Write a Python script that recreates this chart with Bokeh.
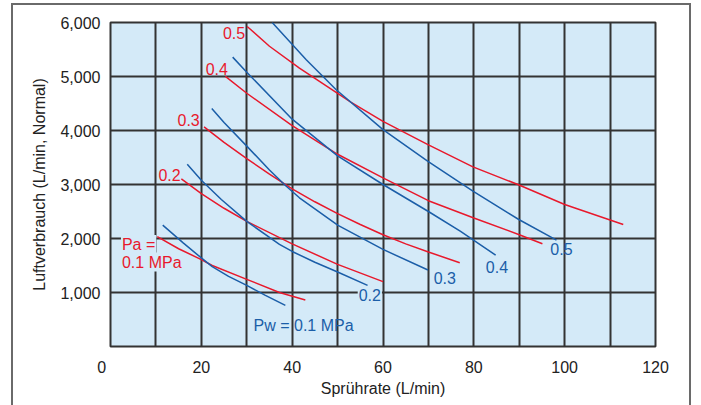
from bokeh.plotting import figure
from bokeh.models import Label, FixedTicker, NumeralTickFormatter, Range1d, InlineStyleSheet
from bokeh.embed import file_html
from bokeh.resources import INLINE

# Pa (air pressure) curves, red
pa01_x = [10.3, 15, 20, 22.4, 30, 37.2, 42.9]
pa01_y = [2033, 1810, 1610, 1500, 1244, 1000, 861]
pa02_x = [15.6, 20, 25, 30, 40, 50, 60]
pa02_y = [3105, 2830, 2560, 2316, 1900, 1521, 1201]
pa03_x = [20.6, 25, 30, 35, 40, 45, 50, 55, 60, 65, 70, 76.9]
pa03_y = [4067, 3780, 3480, 3190, 2920, 2680, 2460, 2260, 2070, 1900, 1750, 1552]
pa04_x = [25.3, 30, 40, 50, 60, 70, 80, 90, 95.1]
pa04_y = [5001, 4690, 4090, 3560, 3123, 2700, 2380, 2070, 1903]
pa05_x = [30.1, 35, 41.6, 53, 60, 69.9, 79.8, 89.7, 100, 112.9]
pa05_y = [5926, 5560, 5156, 4520, 4169, 3739, 3326, 2999, 2630, 2260]

# Pw (water pressure) curves, blue
pw01_x = [11.5, 16, 20, 22.4, 26, 30, 34, 38.5]
pw01_y = [2248, 1920, 1640, 1478, 1300, 1133, 950, 763]
pw02_x = [16.9, 20, 24.4, 30, 37.2, 40, 45, 50, 56.6]
pw02_y = [3375, 3080, 2722, 2316, 1891, 1760, 1560, 1380, 1133]
pw03_x = [22.3, 25, 29.9, 35, 38.7, 41.6, 50.1, 60, 69.9]
pw03_y = [4409, 4150, 3720, 3270, 2968, 2754, 2242, 1798, 1416]
pw04_x = [26.9, 30, 40, 50, 60, 70, 77, 84.8]
pw04_y = [5359, 5080, 4210, 3530, 3000, 2500, 2136, 1690]
pw05_x = [35.6, 43.1, 49.7, 60, 69.9, 79.8, 89.9, 98.2]
pw05_y = [6000, 5309, 4754, 4016, 3430, 2876, 2352, 1970]

x_ticks = [0, 20, 40, 60, 80, 100, 120]
x_grid = [0, 10, 20, 30, 40, 50, 60, 70, 80, 90, 100, 110, 120]
y_ticks = [1000, 2000, 3000, 4000, 5000, 6000]
y_grid = [0, 1000, 2000, 3000, 4000, 5000, 6000]

RED = "#e8192c"
BLUE = "#1b5ea8"
BG = "#d4eaf8"
GRID = "#333333"
FONT = "Liberation Sans"

frame_css = InlineStyleSheet(css="""
:host { position: relative; }
:host::after {
  content: ""; position: absolute; left: 11px; top: 3px;
  width: 680px; height: 420px; border: 2px solid #6a6a6a;
  box-sizing: border-box; pointer-events: none;
}
""")

p = figure(width=695, height=402, output_backend="svg", toolbar_location=None,
           x_range=Range1d(0, 120), y_range=Range1d(0, 6000),
           min_border_left=110, min_border_right=40, min_border_top=22, min_border_bottom=56)
p.stylesheets = [frame_css]
p.background_fill_color = BG
p.border_fill_color = "white"
p.outline_line_color = GRID
p.outline_line_width = 2

p.xgrid.ticker = FixedTicker(ticks=x_grid)
p.ygrid.ticker = FixedTicker(ticks=y_grid)
for g in (p.xgrid, p.ygrid):
    g.grid_line_color = GRID
    g.grid_line_width = 2
    g.grid_line_alpha = 1.0

p.xaxis.ticker = FixedTicker(ticks=x_ticks)
p.xaxis.major_label_overrides = {0: "0\u00a0\u00a0\u00a0\u00a0"}
p.yaxis.ticker = FixedTicker(ticks=y_ticks)
p.yaxis.formatter = NumeralTickFormatter(format="0,0")
for ax in (p.xaxis, p.yaxis):
    ax.axis_line_color = None
    ax.major_tick_line_color = None
    ax.minor_tick_line_color = None
    ax.major_label_text_font = FONT
    ax.major_label_text_font_size = "16px"
    ax.major_label_text_color = "#222222"
    ax.axis_label_text_font = FONT
    ax.axis_label_text_font_size = "16px"
    ax.axis_label_text_font_style = "normal"
    ax.axis_label_text_color = "#222222"
p.xaxis.axis_label = "Sprührate (L/min)"
p.yaxis.axis_label = "Luftverbrauch (L/min, Normal)"
p.xaxis.major_label_standoff = 6
p.xaxis.axis_label_standoff = 1
p.yaxis.major_label_standoff = 4
p.yaxis.axis_label_standoff = 9

for xs, ys in [(pa01_x, pa01_y), (pa02_x, pa02_y), (pa03_x, pa03_y), (pa04_x, pa04_y), (pa05_x, pa05_y)]:
    p.line(xs, ys, line_color=RED, line_width=1.5)
for xs, ys in [(pw01_x, pw01_y), (pw02_x, pw02_y), (pw03_x, pw03_y), (pw04_x, pw04_y), (pw05_x, pw05_y)]:
    p.line(xs, ys, line_color=BLUE, line_width=1.5)

def lab(x, y, text, color, align="center", bg=None):
    l = Label(x=x, y=y, text=text, text_color=color, text_font=FONT,
              text_font_size="16px", text_align=align, text_baseline="middle")
    if bg:
        l.background_fill_color = bg
        l.padding = 1
    p.add_layout(l)

lab(27.2, 5803, "0.5", RED)
lab(23.4, 5137, "0.4", RED)
lab(17.2, 4188, "0.3", RED)
lab(13.0, 3184, "0.2", RED)
lab(2.3, 1890, "Pa =", RED, align="left", bg=BG)
lab(2.3, 1563, "0.1 MPa", RED, align="left", bg=BG)

lab(99.3, 1798, "0.5", BLUE)
lab(85.1, 1478, "0.4", BLUE)
lab(73.6, 1275, "0.3", BLUE)
lab(57.1, 948, "0.2", BLUE, bg=BG)
lab(31.5, 394, "Pw = 0.1 MPa", BLUE, align="left")

open("out.html", "w").write(file_html(p, INLINE))
